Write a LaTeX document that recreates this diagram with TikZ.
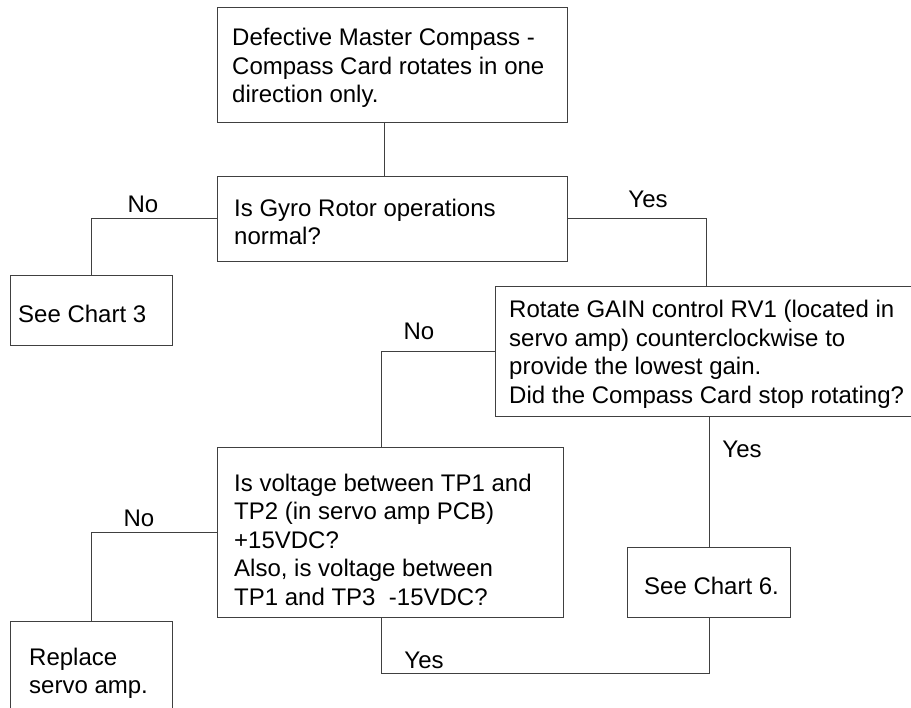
\documentclass[tikz,border=0pt]{standalone}
\usepackage{fontspec}
\setmainfont{Liberation Sans}
\begin{document}
\begin{tikzpicture}[x=1pt,y=-1pt,
  box/.style={draw=black!75,line width=1pt,anchor=north west,inner sep=0pt},
  note/.style={anchor=west,align=left,inner sep=0pt,yshift=-3pt,
    font=\fontsize{24}{28.5}\selectfont},
  answer/.style={anchor=base,font=\fontsize{24}{28.5}\selectfont},
  line/.style={draw=black!75,line width=1pt}]
\useasboundingbox (0,0) rectangle (911,708);
\clip (0,0) rectangle (911,708);

% boxes
\node[box,minimum width=350pt,minimum height=114.5pt] (a) at (217,7.5) {};
\node[box,minimum width=350pt,minimum height=85pt] (b) at (217,176) {};
\node[box,minimum width=162pt,minimum height=70pt] (c) at (10,275) {};
\node[box,minimum width=422pt,minimum height=130pt] (d) at (495,286) {};
\node[box,minimum width=346pt,minimum height=170pt] (e) at (217,447) {};
\node[box,minimum width=163pt,minimum height=70pt] (f) at (627,547) {};
\node[box,minimum width=162pt,minimum height=98pt] (g) at (10,621) {};

% box texts
\node[note] (at) at ([xshift=15pt]a.west)
  {Defective Master Compass -\\Compass Card rotates in one\\direction only.};
\node[note] (bt) at ([xshift=17pt]b.west) {Is Gyro Rotor operations\\normal?};
\node[note] (ct) at ([xshift=8pt]c.west) {See Chart 3};
\node[note] (dt) at ([xshift=14pt]d.west)
  {Rotate GAIN control RV1 (located in\\servo amp) counterclockwise to\\provide the lowest gain.\\Did the Compass Card stop rotating?};
\node[note,yshift=-4pt] (et) at ([xshift=17pt]e.west)
  {Is voltage between TP1 and\\TP2 (in servo amp PCB)\\+15VDC?\\Also, is voltage between\\TP1 and TP3\ \ -15VDC?};
\node[note] (ft) at ([xshift=17pt]f.west) {See Chart 6.};
\node[note] (gt) at ([xshift=19pt]g.west) {Replace\\servo amp.};

% answers
\node[answer] (no1) at (143,213) {No};
\node[answer] (yes1) at (648,208) {Yes};
\node[answer] (no2) at (419,340) {No};
\node[answer] (yes2) at (742,458) {Yes};
\node[answer] (no3) at (139,527) {No};
\node[answer] (yes3) at (424,668) {Yes};

\path[line]
([xshift=-8pt]a.south) -- ([xshift=-8pt]b.north)
(b.west) -| (c.north)
(b.east) -| (d.north)
(d.west) -| ([xshift=-9pt]e.north)
(e.west) -| (g.north)
(d.south -| f.north) -- (f.north)
(f.south) -- ++(0,55) -| ([xshift=-9pt]e.south);
\end{tikzpicture}
\end{document}
